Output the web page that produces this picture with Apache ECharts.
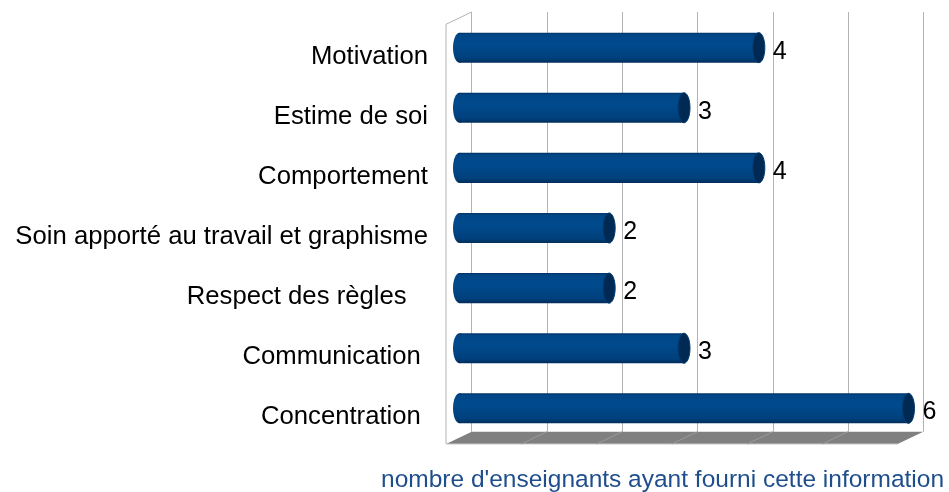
<!DOCTYPE html>
<html>
<head>
<meta charset="utf-8">
<script src="https://cdn.jsdelivr.net/npm/echarts@6/dist/echarts.min.js"></script>
<style>
  html, body { margin: 0; padding: 0; background: #fff; }
  #chart { width: 949px; height: 492px; }
</style>
</head>
<body>
<div id="chart"></div>
<script>
// categories, top to bottom
var categories = [
  'Motivation',
  'Estime de soi',
  'Comportement',
  'Soin apporté au travail et graphisme',
  'Respect des règles   ',
  'Communication ',
  'Concentration '
];
var values = [4, 3, 4, 2, 2, 3, 6];
var xTicks = [0, 1, 2, 3, 4, 5, 6];
var axisTitle = "nombre d'enseignants ayant fourni cette information";

var FONT = 'Liberation Sans, Arial, sans-serif';
// 3d depth offset of the back wall to the front plane
var DX = -25.7, DY = 12.3;

var chart = echarts.init(document.getElementById('chart'));

var bodyGrad = new echarts.graphic.LinearGradient(0, 0, 0, 1, [
  { offset: 0, color: '#003366' },
  { offset: 0.08, color: '#004787' },
  { offset: 0.4, color: '#004a8d' },
  { offset: 0.85, color: '#00407c' },
  { offset: 1, color: '#002d5a' }
]);

function renderBar(params, api) {
  var v = api.value(0);
  var idx = api.value(1);
  var start = api.coord([0, idx]);
  var end = api.coord([v, idx]);
  var h = api.size([0, 1])[1] * 0.5;
  var rx = 6;
  return {
    type: 'group',
    children: [
      { type: 'ellipse', shape: { cx: start[0], cy: start[1], rx: rx + 0.5, ry: h / 2 }, style: { fill: bodyGrad } },
      { type: 'rect', shape: { x: start[0], y: start[1] - h / 2, width: end[0] - start[0], height: h }, style: { fill: bodyGrad } },
      { type: 'ellipse', shape: { cx: end[0], cy: end[1], rx: rx, ry: h / 2 }, style: { fill: '#002a54', stroke: '#003a72', lineWidth: 1 } },
      { type: 'text', style: { text: String(v), x: end[0] + 14, y: end[1] + 4, verticalAlign: 'middle', align: 'left', font: '25px ' + FONT, fill: '#000' } }
    ]
  };
}

function renderWalls(params, api) {
  var xMax = xTicks[xTicks.length - 1];
  var bl = api.coord([0, 0]);
  var br = api.coord([xMax, 0]);
  var tl = api.coord([0, 1]);
  var children = [
    { type: 'polygon', shape: { points: [bl, br, [br[0] + DX, br[1] + DY], [bl[0] + DX, bl[1] + DY]] }, style: { fill: '#808080' } },
    { type: 'polyline', shape: { points: [tl, [tl[0] + DX, tl[1] + DY], [bl[0] + DX, bl[1] + DY]] }, style: { stroke: '#b3b3b3', fill: null, lineWidth: 1 } },
    { type: 'line', shape: { x1: bl[0] + DX, y1: bl[1] + DY, x2: br[0] + DX, y2: br[1] + DY }, style: { stroke: '#c8c8c8', lineWidth: 1 } }
  ];
  xTicks.forEach(function (t) {
    if (t === 0 || t === xMax) return;
    var p = api.coord([t, 0]);
    children.push({ type: 'line', shape: { x1: p[0], y1: p[1], x2: p[0] + DX, y2: p[1] + DY }, style: { stroke: '#9a9a9a', lineWidth: 1 } });
  });
  return { type: 'group', children: children };
}

var option = {
  backgroundColor: '#ffffff',
  animation: false,
  grid: [
    { left: 471.7, right: 25.7, top: 12, bottom: 60.3 },
    { left: 459.5, right: 40.5, top: 17.6, bottom: 53.6 }
  ],
  xAxis: [
    {
      gridIndex: 0, type: 'value', min: 0, max: 6, interval: 1,
      axisLine: { show: false }, axisTick: { show: false }, axisLabel: { show: false },
      splitLine: { show: true, lineStyle: { color: '#b3b3b3', width: 1 } }
    },
    {
      gridIndex: 1, type: 'value', min: 0, max: 6, interval: 1, show: false
    }
  ],
  yAxis: [
    { gridIndex: 0, type: 'value', min: 0, max: 1, show: false },
    {
      gridIndex: 1, type: 'category', data: categories, inverse: true,
      axisLine: { show: false }, axisTick: { show: false },
      axisLabel: { margin: 31.5, color: '#000', fontSize: 25.7, fontFamily: FONT, verticalAlign: 'top', lineHeight: 18 }
    }
  ],
  graphic: [
    { type: 'text', left: 381, top: 468, style: { text: axisTitle, font: '24.5px ' + FONT, fill: '#1f4e8c' } }
  ],
  series: [
    {
      type: 'custom', xAxisIndex: 0, yAxisIndex: 0, renderItem: renderWalls,
      data: [[0, 0]], silent: true
    },
    {
      type: 'custom', xAxisIndex: 1, yAxisIndex: 1, renderItem: renderBar,
      encode: { x: 0, y: 1 },
      data: values.map(function (v, i) { return [v, i]; })
    }
  ]
};

chart.setOption(option);
</script>
</body>
</html>
